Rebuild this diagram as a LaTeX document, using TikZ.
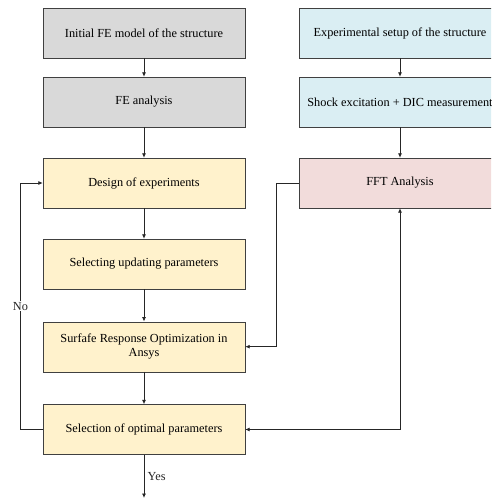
\documentclass[tikz,border=0pt]{standalone}
\usepackage{fontspec}
\setmainfont{Liberation Serif}
\usetikzlibrary{arrows.meta}

\definecolor{boxgrey}{HTML}{D9D9D9}
\definecolor{boxblue}{HTML}{DAEEF3}
\definecolor{boxyell}{HTML}{FFF2CC}
\definecolor{boxpink}{HTML}{F2DCDB}

\tikzset{
  box/.style={draw=black!75, minimum width=202pt, minimum height=50pt, align=center, inner sep=2pt},
  grey/.style={box, fill=boxgrey},
  blue/.style={box, fill=boxblue},
  yell/.style={box, fill=boxyell},
  pink/.style={box, fill=boxpink},
  link/.style={-{Latex[length=4.5pt,width=4pt]}, black!85, line width=0.8pt},
  twoway/.style={link, {Latex[length=4.5pt,width=4pt]}-{Latex[length=4.5pt,width=4pt]}}
}

\begin{document}
\begin{tikzpicture}[x=1pt, y=-1pt, font=\fontsize{12.3}{14.5}\selectfont]
\clip (0,0) rectangle (491,499);
\fill[white] (0,0) rectangle (491,499);
% model side
\node[grey] (init) at (144,33) {Initial FE model of the structure};
\node[grey] (fea) at (144,102) {FE analysis};
\node[yell] (doe) at (144,183) {Design of experiments};
\node[yell] (sel) at (144,264) {Selecting updating parameters};
\node[yell] (rsm) at (144,346.7) {Surfafe Response Optimization in\\Ansys};
\node[yell] (opt) at (144,429.5) {Selection of optimal parameters};
% test side
\node[blue] (exp) at (400,33) {Experimental setup of the structure};
\node[blue] (dic) at (400,102) {Shock excitation + DIC measurement};
\node[pink] (fft) at (400,183) {FFT Analysis};
\coordinate (out) at (144,498);

\draw[link] (init) -- (fea);
\draw[link] (fea) -- (doe);
\draw[link] (doe) -- (sel);
\draw[link] (sel) -- (rsm);
\draw[link] (rsm) -- (opt);
\draw[link] (opt) -- node[right, pos=0.5] {Yes} (out);
\draw[link] (exp) -- (dic);
\draw[link] (dic) -- (fft);
\draw[link] (fft.west) -- ++(-22.3,0) |- (rsm.east);
\draw[twoway] (fft.south) |- (opt.east);
\draw[link] (opt.west) -- ++(-22.3,0) |- node[pos=0.25, fill=white, inner sep=1pt] {No} (doe.west);
\end{tikzpicture}
\end{document}
